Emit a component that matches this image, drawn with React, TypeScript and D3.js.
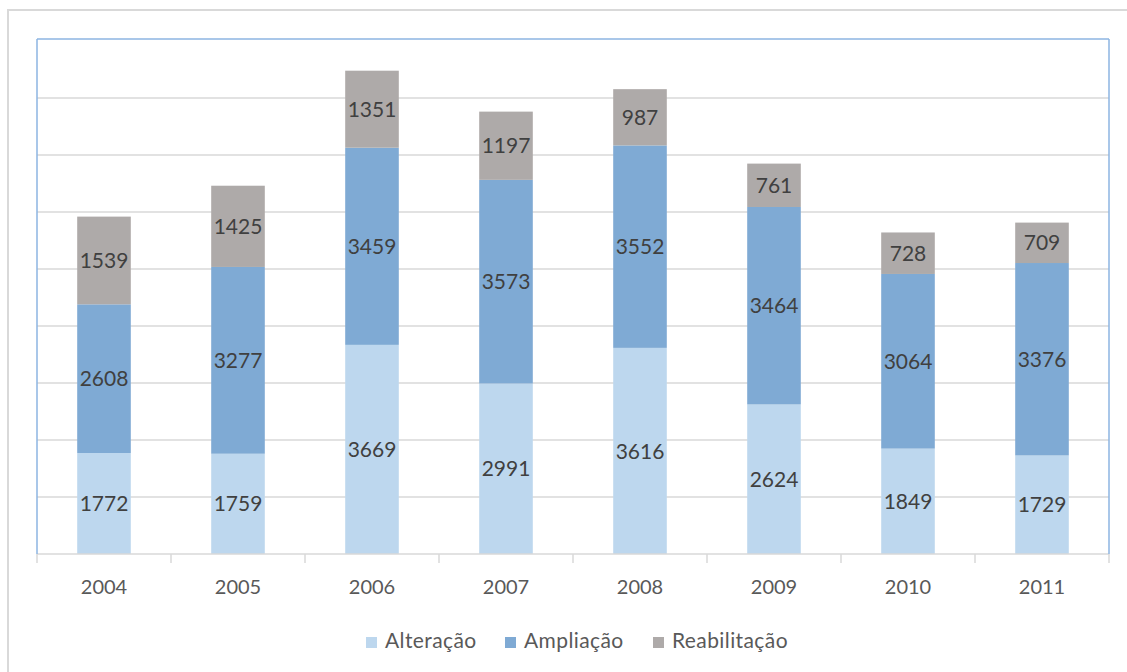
import React from 'react';
import * as d3 from 'd3';

const years = ['2004', '2005', '2006', '2007', '2008', '2009', '2010', '2011'];
const alteracao = [1772, 1759, 3669, 2991, 3616, 2624, 1849, 1729];
const ampliacao = [2608, 3277, 3459, 3573, 3552, 3464, 3064, 3376];
const reabilitacao = [1539, 1425, 1351, 1197, 987, 761, 728, 709];
const seriesNames = ['Alteração', 'Ampliação', 'Reabilitação'];
const colors = ['#bdd7ee', '#7faad4', '#aeaaa9'];
const gridValues = [1000, 2000, 3000, 4000, 5000, 6000, 7000, 8000];

const W = 1127;
const H = 672;
const left = 37, right = 1109, top = 39, bottom = 554;
const font = 'Lato, "Open Sans", sans-serif';

export default function App() {
  const x = d3.scaleBand().domain(years).range([left, right]).paddingInner(0.6).paddingOuter(0.3);
  const xOuter = d3.scaleBand().domain(years).range([left, right]);
  const y = d3.scaleLinear().domain([0, 8000]).range([bottom, 98]);

  const table = years.map((yr, i) => ({
    year: yr,
    'Alteração': alteracao[i],
    'Ampliação': ampliacao[i],
    'Reabilitação': reabilitacao[i],
  }));
  const stacked = d3.stack<any>().keys(seriesNames)(table);

  const tickXs = years.map(yr => xOuter(yr)!).concat([right]);

  const legendItems = [
    { name: seriesNames[0], x: 366, color: colors[0] },
    { name: seriesNames[1], x: 505, color: colors[1] },
    { name: seriesNames[2], x: 653, color: colors[2] },
  ];

  return (
    <svg width={W} height={H} style={{ position: 'absolute', left: 0, top: 0, background: '#fff' }}>
      <rect x={8} y={10} width={W + 10} height={H + 10} fill="#fff" stroke="#d9d9d9" strokeWidth={2} />
      {gridValues.map(v => (
        <line key={v} x1={left} x2={right} y1={y(v)} y2={y(v)} stroke="#d9d9d9" strokeWidth={1.5} />
      ))}
      {stacked.map((s, si) => (
        <g key={s.key}>
          {s.map((d, i) => (
            <rect key={i} x={x(years[i])} width={x.bandwidth()} y={y(d[1])} height={y(d[0]) - y(d[1])} fill={colors[si]} />
          ))}
        </g>
      ))}
      {stacked.map((s, si) => (
        <g key={'l' + s.key}>
          {s.map((d, i) => (
            <text key={i} x={x(years[i])! + x.bandwidth() / 2} y={(y(d[0]) + y(d[1])) / 2} dy="0.36em"
              textAnchor="middle" fontFamily={font} fontSize={21} fill="#404040">
              {d[1] - d[0]}
            </text>
          ))}
        </g>
      ))}
      <line x1={left} x2={right} y1={bottom} y2={bottom} stroke="#d9d9d9" strokeWidth={1.5} />
      {tickXs.map((tx, i) => (
        <line key={i} x1={tx} x2={tx} y1={bottom} y2={bottom + 9} stroke="#d9d9d9" strokeWidth={1.5} />
      ))}
      <line x1={left} x2={left} y1={top} y2={bottom} stroke="#8db4e2" strokeWidth={1.5} />
      <line x1={right} x2={right} y1={top} y2={bottom} stroke="#8db4e2" strokeWidth={1.5} />
      <line x1={left} x2={right} y1={top} y2={top} stroke="#8db4e2" strokeWidth={1.5} />
      {years.map(yr => (
        <text key={yr} x={x(yr)! + x.bandwidth() / 2} y={594} textAnchor="middle" fontFamily={font} fontSize={20} fill="#595959">
          {yr}
        </text>
      ))}
      {legendItems.map(l => (
        <g key={l.name}>
          <rect x={l.x} y={637} width={11} height={11} fill={l.color} />
          <text x={l.x + 19} y={648} fontFamily={font} fontSize={21} letterSpacing={0.4} fill="#595959">{l.name}</text>
        </g>
      ))}
    </svg>
  );
}
